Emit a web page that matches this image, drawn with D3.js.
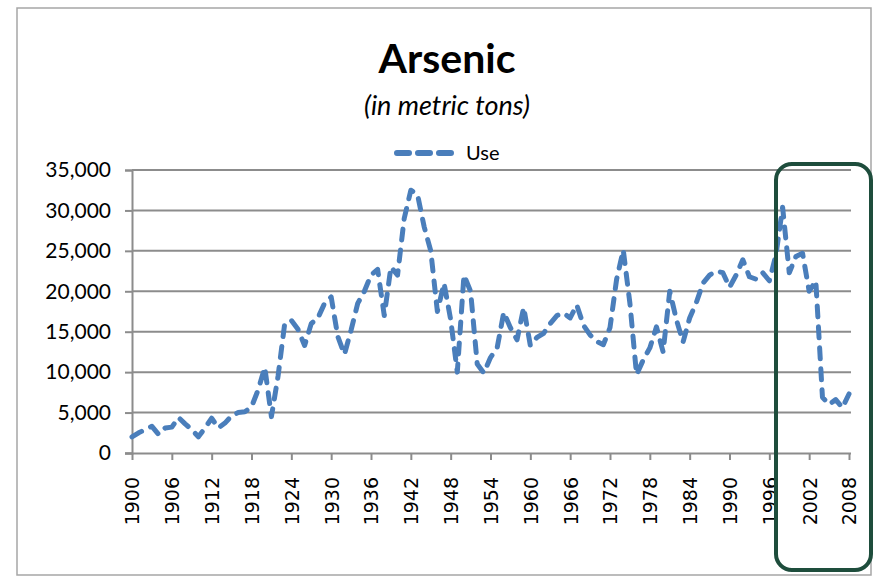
<!DOCTYPE html>
<html>
<head>
<meta charset="utf-8">
<script src="https://cdn.jsdelivr.net/npm/d3@7"></script>
<style>
  body { margin: 0; background: #fff; }
  svg { display: block; }
</style>
</head>
<body>
<svg id="chart" width="876" height="578"></svg>
<script>
// chart data
const years = d3.range(1900, 2009);
const useTons = [
  2000, 2500, 2900, 3300, 2300, 3100, 3200, 4400, 3600, 2900,
  2000, 3100, 4300, 3100, 3700, 4600, 5000, 5100, 5700, 7800,
  10600, 4500, 9500, 16000, 16400, 15300, 13300, 16000, 16700, 18500,
  19300, 14400, 12200, 15200, 18500, 20000, 22000, 22700, 17000, 23000,
  22000, 29000, 32500, 32000, 28000, 25000, 17500, 21000, 16500, 10000,
  22000, 20000, 11000, 9900, 11800, 13000, 17400, 15500, 14000, 18000,
  13300, 14300, 14800, 16000, 17000, 17300, 16700, 18300, 15800, 14600,
  13800, 13400, 15500, 21500, 25100, 18500, 9700, 11500, 13000, 15600,
  12500, 20000, 16500, 13700, 16700, 18600, 21000, 22000, 22500, 22300,
  20500, 22000, 23900, 21800, 21500, 22300, 21300, 24500, 30400, 22300,
  24300, 24700, 20000, 21300, 6900, 6000, 6600, 5600, 7300
];
const yTicks = [0, 5000, 10000, 15000, 20000, 25000, 30000, 35000];
const xTickYears = d3.range(1900, 2009, 6);

const svg = d3.select("#chart");
const plot = { left: 132, right: 849, top: 170, bottom: 453 };
const font = "Lato, 'Open Sans', sans-serif";

const x = d3.scaleLinear().domain([1900, 2008]).range([plot.left, plot.right]);
const y = d3.scaleLinear().domain([0, 35000]).range([plot.bottom, plot.top]);

// outer frame
svg.append("rect")
    .attr("x", 17).attr("y", 8)
    .attr("width", 854).attr("height", 567)
    .attr("fill", "none")
    .attr("stroke", "#a6a6a6")
    .attr("stroke-width", 1.5);

// title
svg.append("text")
    .attr("x", 447).attr("y", 73)
    .attr("text-anchor", "middle")
    .style("font-family", font)
    .style("font-weight", "bold")
    .style("font-size", "41px")
    .text("Arsenic");

svg.append("text")
    .attr("x", 447).attr("y", 115)
    .attr("text-anchor", "middle")
    .style("font-family", font)
    .style("font-style", "italic")
    .style("font-size", "27px")
    .text("(in metric tons)");

// legend
svg.append("line")
    .attr("x1", 397).attr("x2", 454)
    .attr("y1", 153).attr("y2", 153)
    .attr("stroke", "#4a7ebb")
    .attr("stroke-width", 6)
    .attr("stroke-linecap", "round")
    .attr("stroke-dasharray", "12,9");

svg.append("text")
    .attr("x", 466).attr("y", 160)
    .style("font-family", font)
    .style("font-size", "20px")
    .text("Use");

// horizontal gridlines
svg.append("g")
    .selectAll("line")
    .data(yTicks.slice(1))
    .enter()
    .append("line")
    .attr("x1", plot.left).attr("x2", plot.right + 2)
    .attr("y1", d => y(d)).attr("y2", d => y(d))
    .attr("stroke", "#8c8c8c")
    .attr("stroke-width", 2);

// y axis
const yAxis = svg.append("g")
    .attr("transform", `translate(${plot.left},0)`)
    .call(d3.axisLeft(y).tickValues(yTicks).tickSize(7).tickPadding(14)
        .tickFormat(d3.format(",")));
yAxis.select(".domain").attr("stroke", "#8c8c8c").attr("stroke-width", 2);
yAxis.selectAll(".tick line").attr("stroke", "#8c8c8c").attr("stroke-width", 2);
yAxis.selectAll("text")
    .attr("fill", "#000")
    .style("font-family", font)
    .style("font-size", "21px");

// x axis
const xAxis = svg.append("g")
    .attr("transform", `translate(0,${plot.bottom})`)
    .call(d3.axisBottom(x).tickValues(xTickYears).tickSize(7).tickFormat(d3.format("d")));
xAxis.select(".domain").attr("stroke", "#8c8c8c").attr("stroke-width", 2)
    .attr("d", `M${plot.left - 7},0.5H${plot.right + 2}`);
xAxis.selectAll(".tick line").attr("stroke", "#8c8c8c").attr("stroke-width", 2);
xAxis.selectAll("text")
    .attr("fill", "#000")
    .style("font-family", "DejaVu Sans")
    .style("font-size", "19px")
    .attr("text-anchor", "end")
    .attr("transform", "rotate(-90)")
    .attr("x", -24)
    .attr("y", 0)
    .attr("dy", "0.36em");

// the series
const line = d3.line()
    .x((d, i) => x(years[i]))
    .y(d => y(d));

svg.append("path")
    .datum(useTons)
    .attr("fill", "none")
    .attr("stroke", "#4a7ebb")
    .attr("stroke-width", 5)
    .attr("stroke-linejoin", "round")
    .attr("stroke-linecap", "round")
    .attr("stroke-dasharray", "11,10")
    .attr("d", line);

// highlight box drawn over the last years
svg.append("rect")
    .attr("x", 776).attr("y", 164)
    .attr("width", 95).attr("height", 406)
    .attr("rx", 16).attr("ry", 16)
    .attr("fill", "none")
    .attr("stroke", "#1e4d3c")
    .attr("stroke-width", 4);
</script>
</body>
</html>
